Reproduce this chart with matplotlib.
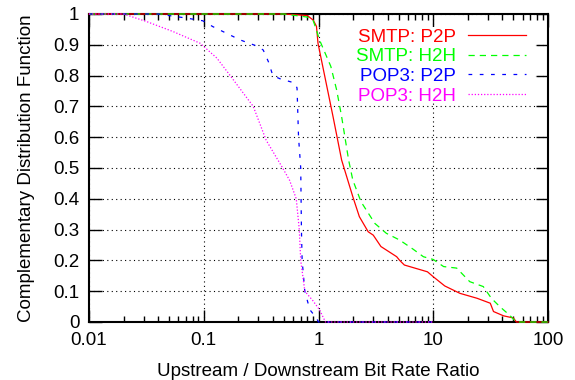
import matplotlib
matplotlib.use("Agg")
import matplotlib.pyplot as plt
from matplotlib.patches import Rectangle
from matplotlib.ticker import FixedLocator, FixedFormatter, LogLocator, NullFormatter

plt.rcParams['font.family'] = ['Liberation Sans', 'DejaVu Sans']

# values
smtp_p2p_x = [0.01, 0.5, 0.8, 0.9, 0.96, 0.99, 1.34, 1.59, 1.99, 2.27, 2.71, 3.0, 3.5, 4.8,
              5.1, 5.6, 8.9, 10, 12.6, 17.1, 24.1, 31.4, 33.5, 41, 50, 53, 100]
smtp_p2p_y = [1.0, 1.0, 0.995, 0.98, 0.96, 0.905, 0.666, 0.526, 0.407, 0.342, 0.293, 0.282, 0.245, 0.212,
              0.20, 0.185, 0.163, 0.147, 0.117, 0.093, 0.077, 0.061, 0.034, 0.02, 0.013, 0.0, 0.0]

smtp_h2h_x = [0.01, 0.5, 0.8, 0.9, 0.96, 1.02, 1.28, 1.44, 1.59, 1.83, 1.99, 2.35, 3.1, 3.9, 5.1,
              6.7, 8.2, 10, 12.3, 16.0, 20.8, 27.3, 32.1, 38, 46, 53, 100]
smtp_h2h_y = [1.0, 1.0, 0.99, 0.978, 0.948, 0.916, 0.83, 0.753, 0.667, 0.526, 0.461, 0.39, 0.32, 0.288, 0.266,
              0.236, 0.212, 0.203, 0.18, 0.175, 0.131, 0.115, 0.077, 0.05, 0.023, 0.0, 0.0]

pop3_p2p_x = [0.01, 0.04, 0.07, 0.098, 0.12, 0.207, 0.29, 0.33, 0.366, 0.40, 0.46, 0.62, 0.65,
              0.67, 0.70, 0.71, 0.72, 0.76, 0.84, 0.96, 1.0, 10]
pop3_p2p_y = [1.0, 1.0, 0.987, 0.978, 0.959, 0.916, 0.896, 0.883, 0.845, 0.80, 0.79, 0.776, 0.76,
              0.60, 0.50, 0.30, 0.20, 0.10, 0.04, 0.013, 0.0, 0.0]

pop3_h2h_x = [0.01, 0.02, 0.032, 0.054, 0.093, 0.13, 0.17, 0.27, 0.35, 0.48, 0.56, 0.64, 0.68,
              0.70, 0.76, 0.89, 1.02, 1.15, 10]
pop3_h2h_y = [1.0, 1.0, 0.975, 0.943, 0.905, 0.857, 0.80, 0.70, 0.59, 0.504, 0.46, 0.40, 0.30,
              0.20, 0.10, 0.07, 0.04, 0.0, 0.0]

x_ticks = [0.01, 0.1, 1, 10, 100]
x_labels = ["0.01", "0.1", "1", "10", "100"]
y_ticks = [i / 10 for i in range(11)]
y_labels = ["0", "0.1", "0.2", "0.3", "0.4", "0.5", "0.6", "0.7", "0.8", "0.9", "1"]

FS = 13.5

fig = plt.figure(figsize=(5.75, 3.8), dpi=100)
ax = fig.add_axes([89 / 575, 1 - 322 / 380, 459 / 575, 308 / 380])
ax.set_axisbelow(True)

kw = dict(lw=0.9, clip_on=False, zorder=3)
ax.plot(smtp_p2p_x, smtp_p2p_y, color='#ff0000', ls='-', label='SMTP: P2P', **kw)
ax.plot(smtp_h2h_x, smtp_h2h_y, color='#00ff00', dashes=(5, 4), label='SMTP: H2H', **kw)
ax.plot(pop3_p2p_x, pop3_p2p_y, color='#0000ff', dashes=(3, 6), label='POP3: P2P', **kw)
ax.plot(pop3_h2h_x, pop3_h2h_y, color='#ff00ff', dashes=(1, 1.5), label='POP3: H2H', **kw)

ax.set_xscale('log')
ax.set_xlim(0.01, 100)
ax.set_ylim(0, 1)
ax.xaxis.set_major_locator(FixedLocator(x_ticks))
ax.xaxis.set_major_formatter(FixedFormatter(x_labels))
ax.xaxis.set_minor_locator(LogLocator(base=10, subs=range(2, 10)))
ax.xaxis.set_minor_formatter(NullFormatter())
ax.yaxis.set_major_locator(FixedLocator(y_ticks))
ax.yaxis.set_major_formatter(FixedFormatter(y_labels))

ax.tick_params(which='major', direction='in', length=9, width=1.0, top=True, right=True,
               labelsize=FS, pad=7)
ax.tick_params(which='minor', direction='in', length=4.5, width=1.0, top=True, right=True)
for s in ax.spines.values():
    s.set_linewidth(1.5)
    s.set_zorder(2.6)

ax.grid(True, which='major', color='black', lw=0.8, dashes=(1, 3))

# opaque key area hides the grid behind the legend
ax.add_patch(Rectangle((0.505, 0.721), 0.467, 0.237, transform=ax.transAxes,
                       facecolor='white', edgecolor='none', zorder=1))

ax.set_xlabel('Upstream / Downstream Bit Rate Ratio', fontsize=FS, labelpad=10)
ax.set_ylabel('Complementary Distribution Function', fontsize=FS, labelpad=13)

leg = ax.legend(loc='upper right', bbox_to_anchor=(0.952, 0.952), frameon=False, fontsize=FS,
                markerfirst=False, handlelength=3.1, handletextpad=0.64, labelspacing=0.13,
                borderpad=0, borderaxespad=0)
leg.set_zorder(4)
for t, l in zip(leg.get_texts(), leg.get_lines()):
    t.set_color(l.get_color())

fig.savefig('out.png', dpi=100)
